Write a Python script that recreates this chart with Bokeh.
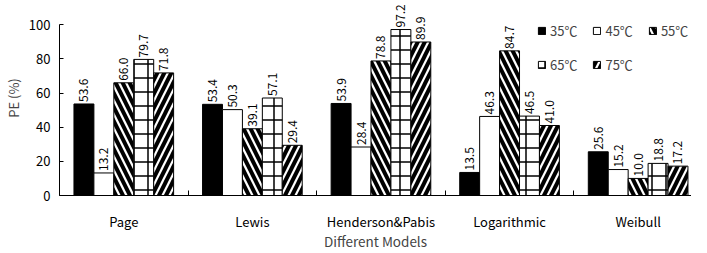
from bokeh.plotting import figure
from bokeh.models import (ColumnDataSource, LabelSet, Legend, LegendItem,
                          FixedTicker, Range1d)
from bokeh.core.properties import value
from bokeh.embed import file_html
from bokeh.resources import INLINE

# ---------------- data ----------------
models = ["Page", "Lewis", "Henderson&Pabis", "Logarithmic", "Weibull"]
temps = ["35℃", "45℃", "55℃", "65℃", "75℃"]
pe_35 = [53.6, 53.4, 53.9, 13.5, 25.6]
pe_45 = [13.2, 50.3, 28.4, 46.3, 15.2]
pe_55 = [66.0, 39.1, 78.8, 84.7, 10.0]
pe_65 = [79.7, 57.1, 97.2, 46.5, 18.8]
pe_75 = [71.8, 29.4, 89.9, 41.0, 17.2]
y_ticks = [0, 20, 40, 60, 80, 100]
series = [pe_35, pe_45, pe_55, pe_65, pe_75]

FONT = "Noto Sans CJK SC"

# ---------------- styles ----------------
styles = [
    dict(fill_color="black"),
    dict(fill_color="white"),
    dict(fill_color="white", hatch_pattern="\\", hatch_color="black",
         hatch_weight=4, hatch_scale=14),
    dict(fill_color="white", hatch_pattern="+", hatch_color="black",
         hatch_weight=1.5, hatch_scale=14),
    dict(fill_color="white", hatch_pattern="/", hatch_color="black",
         hatch_weight=4, hatch_scale=14),
]

bar_w = 0.155
n = len(models)

p = figure(width=691, height=253,
           x_range=Range1d(0, 4.915), y_range=Range1d(0, 114.2),
           output_backend="svg", toolbar_location=None,
           min_border_left=52, min_border_right=0,
           min_border_top=0, min_border_bottom=0)
p.background_fill_color = "white"
p.border_fill_color = "white"
p.outline_line_color = None
p.xgrid.visible = False
p.ygrid.visible = False

items = []
for k, (vals, st) in enumerate(zip(series, styles)):
    off = (k - 2) * bar_w
    xs = [i + 0.5 + off for i in range(n)]
    src = ColumnDataSource(dict(x=xs, top=vals,
                                lab=[f"{v:.1f}" for v in vals]))
    r = p.vbar(x="x", top="top", width=bar_w, bottom=0, source=src,
               line_color="black", line_width=1, **st)
    items.append(LegendItem(label=temps[k], renderers=[r]))
    labels = LabelSet(x="x", y="top", text="lab", source=src,
                      angle=1.5708, text_align="left", text_baseline="middle",
                      y_offset=2, text_font=value(FONT),
                      text_font_size="12px", text_color="black")
    p.add_layout(labels)

# ---------------- axes ----------------
xa = p.xaxis[0]
xa.ticker = FixedTicker(ticks=[i + 0.5 for i in range(n)],
                        minor_ticks=list(range(n + 1)))
xa.major_label_overrides = {i + 0.5: m for i, m in enumerate(models)}
xa.major_tick_line_color = None
xa.minor_tick_in = 5
xa.minor_tick_out = 0
xa.minor_tick_line_color = "black"
xa.axis_line_color = "black"
xa.major_label_standoff = 10
xa.major_label_text_font = FONT
xa.major_label_text_font_size = "13px"
xa.major_label_text_color = "black"
xa.axis_label = "Different Models"
xa.axis_label_text_font = FONT
xa.axis_label_text_font_size = "13.5px"
xa.axis_label_text_font_style = "normal"
xa.axis_label_standoff = -3

ya = p.yaxis[0]
ya.ticker = FixedTicker(ticks=y_ticks)
ya.minor_tick_line_color = None
ya.major_tick_in = 4
ya.major_tick_out = 0
ya.bounds = (0, 100)
ya.axis_line_color = "black"
ya.major_label_standoff = 9
ya.major_label_text_font = FONT
ya.major_label_text_font_size = "13px"
ya.major_label_text_color = "black"
ya.axis_label = "PE (%)"
ya.axis_label_text_font = FONT
ya.axis_label_text_font_size = "13px"
ya.axis_label_text_font_style = "normal"
ya.axis_label_standoff = 3

# ---------------- legend ----------------
legend = Legend(items=items, orientation="horizontal", nrows=2,
                location=(478, 121), margin=0, padding=0,
                border_line_color=None, background_fill_alpha=0,
                glyph_width=9, glyph_height=9, label_standoff=4,
                label_height=17, spacing=15,
                label_text_font=FONT, label_text_font_size="13px")
p.add_layout(legend)

open("out.html", "w").write(file_html(p, INLINE))
